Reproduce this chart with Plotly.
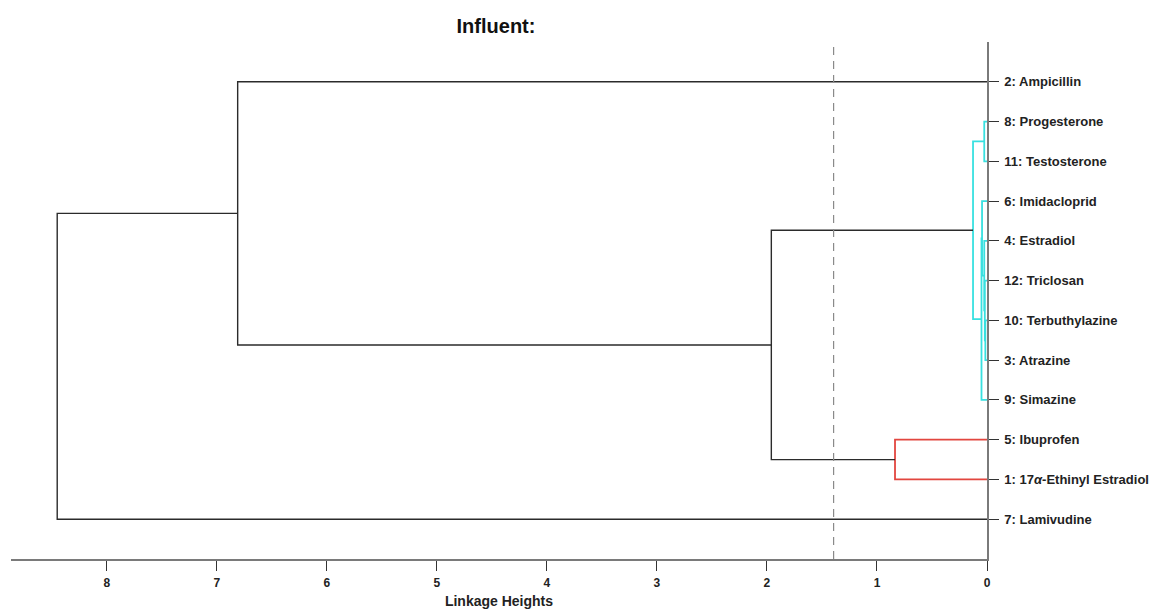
import plotly.graph_objects as go

# Leaf labels (index = leaf id - 1)
leaf_labels = [
    "1: 17<i>α</i>-Ethinyl Estradiol", "2: Ampicillin", "3: Atrazine", "4: Estradiol",
    "5: Ibuprofen", "6: Imidacloprid", "7: Lamivudine", "8: Progesterone",
    "9: Simazine", "10: Terbuthylazine", "11: Testosterone", "12: Triclosan",
]
# Top-to-bottom display order of the leaves
leaf_order = [2, 8, 11, 6, 4, 12, 10, 3, 9, 5, 1, 7]

# Linkage table (clusters 13.. are formed in this order)
link_a = [10, 12, 4, 8, 6, 17, 16, 5, 19, 2, 22]
link_b = [3, 13, 14, 11, 15, 9, 18, 1, 20, 21, 7]
link_h = [0.015, 0.020, 0.025, 0.025, 0.045, 0.050, 0.127, 0.836, 1.96, 6.81, 8.45]

color_threshold = 1.394
cluster_palette = ["#38e0e0", "#e2463f"]
above_color = "#2b2b2b"

x_ticks = [0, 1, 2, 3, 4, 5, 6, 7, 8]

n_leaves = len(leaf_labels)
n_links = len(link_h)

# Leaf / node positions and heights
pos = {leaf: i + 1 for i, leaf in enumerate(leaf_order)}
height = {leaf: 0.0 for leaf in leaf_order}
parent = {}
for k, (a, b, h) in enumerate(zip(link_a, link_b, link_h)):
    node = n_leaves + 1 + k
    pos[node] = (pos[a] + pos[b]) / 2
    height[node] = h
    parent[a] = node
    parent[b] = node

# Colour: each maximal subtree below the threshold gets its own colour
def group_root(node):
    while node in parent and height[parent[node]] < color_threshold:
        node = parent[node]
    return node

roots = sorted({group_root(n_leaves + 1 + k) for k in range(n_links)
                if link_h[k] < color_threshold}, key=lambda n: pos[n])
root_color = {r: cluster_palette[i % len(cluster_palette)] for i, r in enumerate(roots)}

fig = go.Figure()
for k, (a, b, h) in enumerate(zip(link_a, link_b, link_h)):
    node = n_leaves + 1 + k
    below = h < color_threshold
    col = root_color[group_root(node)] if below else above_color
    fig.add_trace(go.Scatter(
        x=[height[a], h, h, height[b]],
        y=[pos[a], pos[a], pos[b], pos[b]],
        mode="lines",
        line=dict(color=col, width=1.8 if below else 1.4),
        hoverinfo="skip",
        showlegend=False,
    ))

fig.add_shape(
    type="line", xref="x", yref="paper",
    x0=color_threshold, x1=color_threshold, y0=0, y1=1,
    line=dict(color="#8a8a8a", width=1.2, dash="8px,6px"),
)

font_family = "Arial, Liberation Sans, sans-serif"
fig.update_layout(
    width=1153, height=609,
    margin=dict(l=11, r=166, t=42, b=50),
    plot_bgcolor="white", paper_bgcolor="white",
    title=dict(
        text="<b>Influent:</b>", x=496 / 1153, xanchor="center",
        y=1 - 26 / 609, yanchor="middle",
        font=dict(family=font_family, size=20, color="#111"),
    ),
    xaxis=dict(
        range=[8.87, 0], tickvals=x_ticks, ticktext=[str(t) for t in x_ticks],
        showgrid=False, zeroline=False, automargin=False,
        showline=True, linecolor="#7a7a7a", linewidth=1.5,
        ticks="outside", ticklen=10, tickcolor="#333", tickwidth=1,
        ticklabelstandoff=2,
        tickfont=dict(family=font_family, size=12, color="#222", weight="bold"),
        title=dict(text="<b>Linkage Heights</b>", standoff=8,
                   font=dict(family=font_family, size=14, color="#222")),
    ),
    yaxis=dict(
        range=[13, 0], side="right", automargin=False,
        tickvals=list(range(1, n_leaves + 1)),
        ticktext=[leaf_labels[l - 1] for l in leaf_order],
        showgrid=False, zeroline=False,
        showline=True, linecolor="#7a7a7a", linewidth=1.5,
        ticks="outside", ticklen=10, tickcolor="#333", tickwidth=1,
        ticklabelstandoff=3,
        tickfont=dict(family=font_family, size=13, color="#222", weight="bold"),
    ),
)

fig.write_html("out.html")
